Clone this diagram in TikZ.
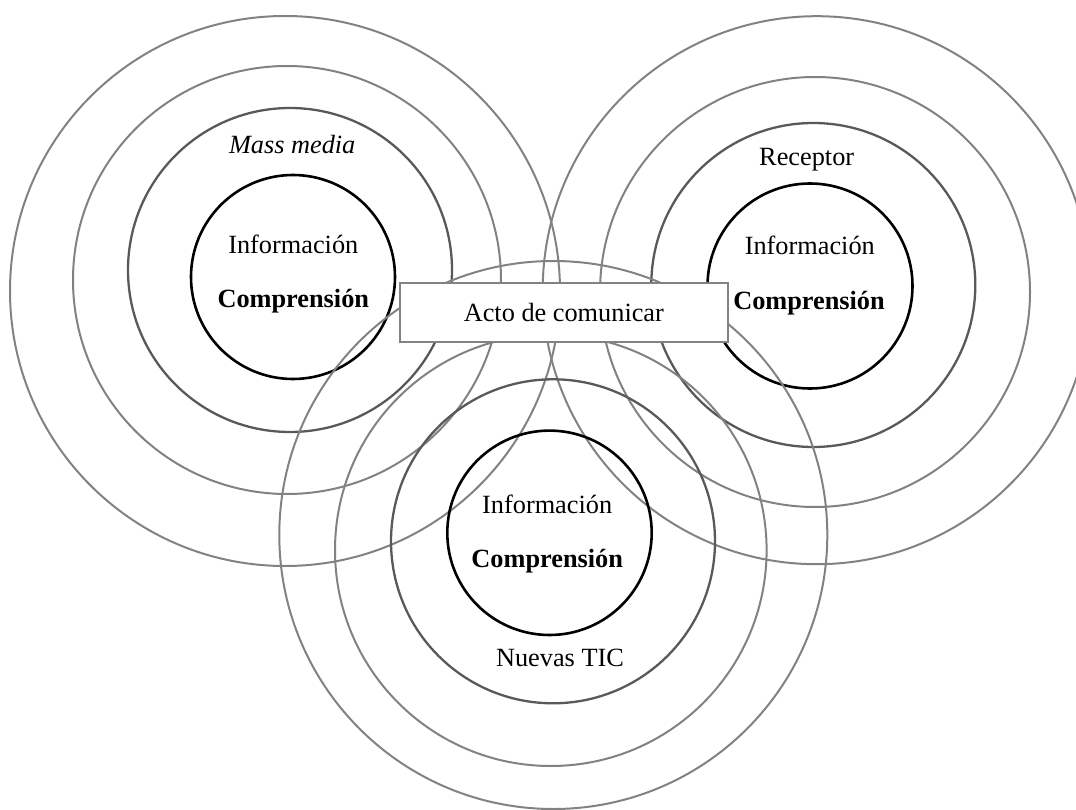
\documentclass[tikz,border=0pt]{standalone}
\usepackage{fontspec}
\setmainfont{Liberation Serif}
\definecolor{ringgray}{HTML}{828282}
\definecolor{midgray}{HTML}{595959}
\begin{document}
\begin{tikzpicture}[x=1pt,y=-1pt,
  outerring/.style={draw=ringgray, line width=2pt},
  midring/.style={draw=midgray, line width=2.3pt},
  corering/.style={draw=black, line width=2.6pt},
  lbl/.style={font=\fontsize{26.3}{30}\selectfont, inner sep=0pt, anchor=base},
  boldlbl/.style={lbl, font=\fontsize{26.3}{30}\selectfont\bfseries},
  actbox/.style={draw=ringgray, line width=2pt, fill=white, inner sep=0pt,
    minimum width=327.7pt, minimum height=58.4pt,
    font=\fontsize{26.3}{30}\selectfont}]
\useasboundingbox (0,0) rectangle (1076,810);
\clip (0,0) rectangle (1076,810);

% Mass media rings
\draw[outerring] (285,291) circle[radius=275];
\draw[outerring] (287,280) circle[radius=214];
\draw[midring]   (290,270) circle[radius=162];
\draw[corering]  (293,277) circle[radius=102];

% Receptor rings
\draw[outerring] (816.7,290.2) circle[radius=274];
\draw[outerring] (815,292) circle[radius=215];
\draw[midring]   (813.3,285) circle[radius=162];
\draw[corering]  (810,286) circle[radius=102.5];

% Nuevas TIC rings
\draw[outerring] (553.3,535) circle[radius=274];
\draw[outerring] (550.8,550.2) circle[radius=215.8];
\draw[midring]   (553,541.3) circle[radius=162];
\draw[corering]  (549.5,532.8) circle[radius=102.2];

% Labels of the mass media group
\node[lbl] (mmtitle) at (292.2,153.3) {\itshape Mass media};
\node[lbl] (mminfo) at (293.3,253.3) {Información};
\node[boldlbl] (mmcomp) at (293.3,307.3) {Comprensión};

% Labels of the receptor group
\node[lbl] (rtitle) at (806.7,165.7) {Receptor};
\node[lbl] (rinfo) at (809.8,255) {Información};
\node[boldlbl] (rcomp) at (809,309.3) {Comprensión};

% Labels of the new ICT group
\node[lbl] (tinfo) at (547.2,513.3) {Información};
\node[boldlbl] (tcomp) at (547.2,567.3) {Comprensión};
\node[lbl] (ttitle) at (560,666.7) {Nuevas TIC};

% Central box
\node[actbox] (acto) at (563.85,312.5) {Acto de comunicar};
\end{tikzpicture}
\end{document}
